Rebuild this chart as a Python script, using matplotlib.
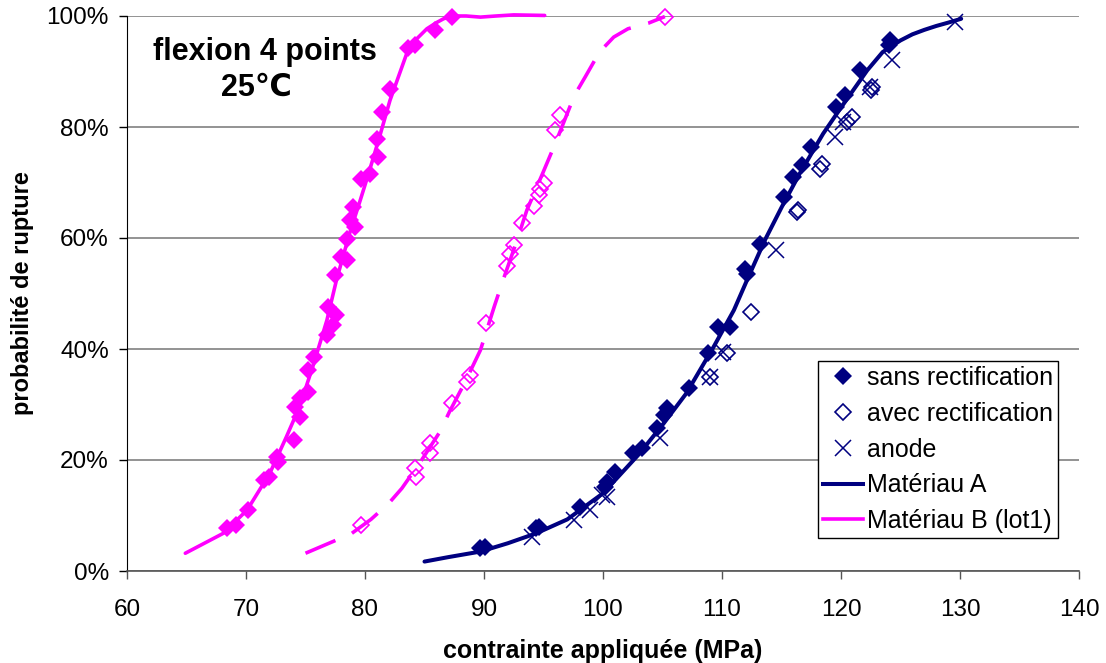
import matplotlib

matplotlib.use("Agg")
import matplotlib.pyplot as plt
from matplotlib.lines import Line2D
from matplotlib.ticker import FuncFormatter

NAVY = "#000080"
MAGENTA = "#FF00FF"

# Matériau B (lot1), sans rectification -- filled magenta diamonds
b_sans_x = [87.3, 85.9, 84.2, 83.6, 82.1, 81.4, 81.0, 81.1, 80.4, 79.7, 79.0, 78.7,
            79.2, 78.5, 78.0, 78.5, 77.5, 76.9, 77.6, 77.3, 76.8, 75.7, 75.2, 75.2,
            74.5, 74.1, 74.5, 74.0, 72.6, 72.7, 71.9, 71.5, 70.2, 69.2, 68.4]
b_sans_p = [99.8, 97.4, 94.8, 94.2, 86.9, 82.7, 77.9, 74.6, 71.6, 70.7, 65.6, 63.2,
            62.0, 59.9, 56.6, 56.0, 53.3, 47.6, 46.1, 44.3, 42.5, 38.6, 36.2, 32.3,
            31.1, 29.6, 27.8, 23.6, 20.6, 19.7, 17.0, 16.4, 11.0, 8.3, 7.7]

# Matériau B, avec rectification -- open magenta diamonds
b_avec_x = [105.2, 96.4, 96.0, 95.0, 94.7, 94.6, 94.2, 93.2, 92.5, 92.2, 91.9,
            90.2, 88.8, 88.6, 87.3, 85.5, 85.5, 84.2, 84.3, 79.7]
b_avec_p = [99.9, 82.1, 79.4, 69.9, 68.9, 67.7, 65.8, 62.7, 58.7, 57.2, 55.0,
            44.6, 35.3, 34.1, 30.2, 23.0, 21.2, 18.5, 17.0, 8.3]

# Matériau A -- sans rectification
a_sans_x = [89.7, 90.1, 94.4, 94.6, 98.1, 100.2, 100.3, 101.0, 102.5, 103.3, 104.5,
            105.1, 105.4, 107.2, 108.8, 109.7, 110.7, 111.9, 112.1, 113.2, 115.2,
            116.0, 116.7, 117.5, 119.6, 120.3, 121.6, 124.0, 124.1]
a_sans_p = [4.1, 4.4, 7.7, 8.0, 11.6, 15.2, 16.1, 17.9, 21.2, 22.1, 25.7,
            28.1, 29.3, 32.9, 39.2, 44.0, 44.0, 54.5, 53.6, 59.0, 67.4,
            71.0, 73.1, 76.4, 83.6, 85.7, 90.2, 94.7, 95.6]

# Matériau A -- avec rectification
a_avec_x = [109.0, 110.4, 112.4, 116.4, 116.3, 118.2, 118.4, 120.5, 120.9, 122.5, 122.6]
a_avec_p = [35.0, 39.2, 46.7, 65.0, 64.6, 72.5, 73.4, 80.9, 81.8, 86.6, 87.2]

# Matériau A -- anode
a_anode_x = [94.0, 97.6, 98.9, 99.9, 100.3, 104.8, 109.0, 110.1, 114.5, 119.5,
             120.2, 122.4, 124.3, 129.6]
a_anode_p = [6.2, 9.2, 11.0, 13.7, 13.4, 23.9, 35.0, 39.5, 57.8, 78.2,
             80.9, 87.2, 92.0, 98.9]

# fitted curves
curve_a_x = [85.0, 87.0, 89.7, 92.0, 94.4, 97.0, 100.0, 103.0, 105.1, 107.0, 109.3,
             111.0, 112.1, 113.6, 115.0, 116.5, 118.5, 120.0, 122.2, 123.5, 125.0,
             126.0, 127.0, 128.0, 129.0, 130.1]
curve_a_p = [1.7, 2.5, 3.5, 5.0, 6.8, 9.3, 14.0, 21.0, 26.6, 32.0, 40.4,
             47.0, 52.4, 59.6, 65.5, 71.5, 78.8, 83.5, 90.2, 93.5, 95.6,
             96.7, 97.5, 98.2, 98.8, 99.5]

curve_b_x = [64.9, 66.5, 68.1, 70.1, 72.0, 73.4, 74.5, 75.7, 76.8, 77.6, 78.7, 79.6,
             80.3, 81.3, 82.1, 83.5, 84.4, 85.2, 86.0, 86.6, 87.3, 88.5, 89.7, 91.0,
             92.5, 95.1]
curve_b_p = [3.2, 5.0, 6.8, 11.0, 17.6, 24.2, 29.6, 37.4, 45.2, 52.4, 60.8, 66.8,
             71.6, 78.8, 84.8, 93.2, 96.0, 97.7, 98.8, 99.5, 100.0, 100.0, 99.8, 100.0,
             100.2, 100.1]

curve_b2_x = [75.0, 77.3, 78.9, 80.5, 82.0, 83.1, 84.7, 86.3, 87.1, 88.4, 89.7, 90.9,
              91.6, 92.6, 93.6, 94.9, 96.1, 97.6, 98.5, 99.7, 100.9, 102.1, 103.8, 105.2]
curve_b2_p = [3.2, 5.3, 6.8, 9.3, 12.2, 14.9, 19.8, 25.1, 28.7, 34.0, 39.8, 47.9,
              52.4, 58.5, 65.0, 71.5, 77.6, 85.7, 89.0, 93.5, 96.2, 97.7, 98.7, 99.9]

x_ticks = [60, 70, 80, 90, 100, 110, 120, 130, 140]
y_ticks = [0, 20, 40, 60, 80, 100]

plt.rcParams["font.family"] = ["Liberation Sans", "DejaVu Sans"]

fig = plt.figure(figsize=(11.06, 6.63), dpi=100)
ax = fig.add_axes([127 / 1106, 1 - 571 / 663, 952 / 1106, 555 / 663])

ax.plot(b_sans_x, b_sans_p, "D", color=MAGENTA, ms=9, mew=0, clip_on=False, zorder=3)
ax.plot(b_avec_x, b_avec_p, "D", mfc="none", mec=MAGENTA, ms=8, mew=1.2, clip_on=False, zorder=3)
ax.plot(a_sans_x, a_sans_p, "D", color=NAVY, ms=9, mew=0, clip_on=False, zorder=3)
ax.plot(a_avec_x, a_avec_p, "D", mfc="none", mec=NAVY, ms=8, mew=1.2, clip_on=False, zorder=3)
ax.plot(a_anode_x, a_anode_p, "x", color=NAVY, ms=12, mew=1.1, clip_on=False, zorder=3)

ax.plot(curve_b_x, curve_b_p, color=MAGENTA, lw=2.6, solid_capstyle="round",
        solid_joinstyle="round", clip_on=False, zorder=4)
ax.plot(curve_b2_x, curve_b2_p, color=MAGENTA, lw=2.6, ls=(0, (9, 5)),
        dash_capstyle="butt", clip_on=False, zorder=4)
ax.plot(curve_a_x, curve_a_p, color=NAVY, lw=2.9, solid_capstyle="round",
        solid_joinstyle="round", clip_on=False, zorder=4)

ax.set_xlim(60, 140)
ax.set_ylim(0, 100)
ax.set_xticks(x_ticks)
ax.set_yticks(y_ticks)
ax.yaxis.set_major_formatter(FuncFormatter(lambda v, _: f"{v:.0f}%"))
ax.tick_params(axis="both", labelsize=17.5, direction="out", length=6, width=1)
ax.tick_params(axis="x", pad=14, color="#555555")
ax.tick_params(axis="y", pad=7)

ax.grid(axis="y", color="#808080", linewidth=1.2)
ax.set_axisbelow(True)
for side in ("top", "right"):
    ax.spines[side].set_visible(False)
ax.spines["left"].set_color("black")
ax.spines["bottom"].set_color("#555555")
ax.spines["bottom"].set_linewidth(1.2)

ax.set_xlabel("contrainte appliquée (MPa)", fontsize=18, fontweight="bold", labelpad=13)
ax.set_ylabel("probabilité de rupture", fontsize=17, fontweight="bold", labelpad=9)

fig.text(265 / 1106, 1 - 52 / 663, "flexion 4 points", fontsize=22, fontweight="bold",
         ha="center", va="center")
fig.text(256 / 1106, 1 - 88 / 663, "25℃", fontsize=22, fontweight="bold",
         ha="center", va="center")

handles = [
    Line2D([], [], ls="none", marker="D", color=NAVY, ms=9, mew=0),
    Line2D([], [], ls="none", marker="D", mfc="none", mec=NAVY, ms=8, mew=1.2),
    Line2D([], [], ls="none", marker="x", color=NAVY, ms=12, mew=1.1),
    Line2D([], [], color=NAVY, lw=2.9),
    Line2D([], [], color=MAGENTA, lw=2.6),
]
labels = ["sans rectification", "avec rectification", "anode", "Matériau A", "Matériau B (lot1)"]
leg = ax.legend(handles, labels, loc="upper right", bbox_to_anchor=(0.978, 0.378),
                fontsize=18, frameon=True, fancybox=False, edgecolor="black",
                framealpha=1, borderaxespad=0, borderpad=0.2, handlelength=1.6,
                handletextpad=0.15, labelspacing=0.47)
leg.get_frame().set_linewidth(1.0)

fig.savefig("out.png", dpi=100)
